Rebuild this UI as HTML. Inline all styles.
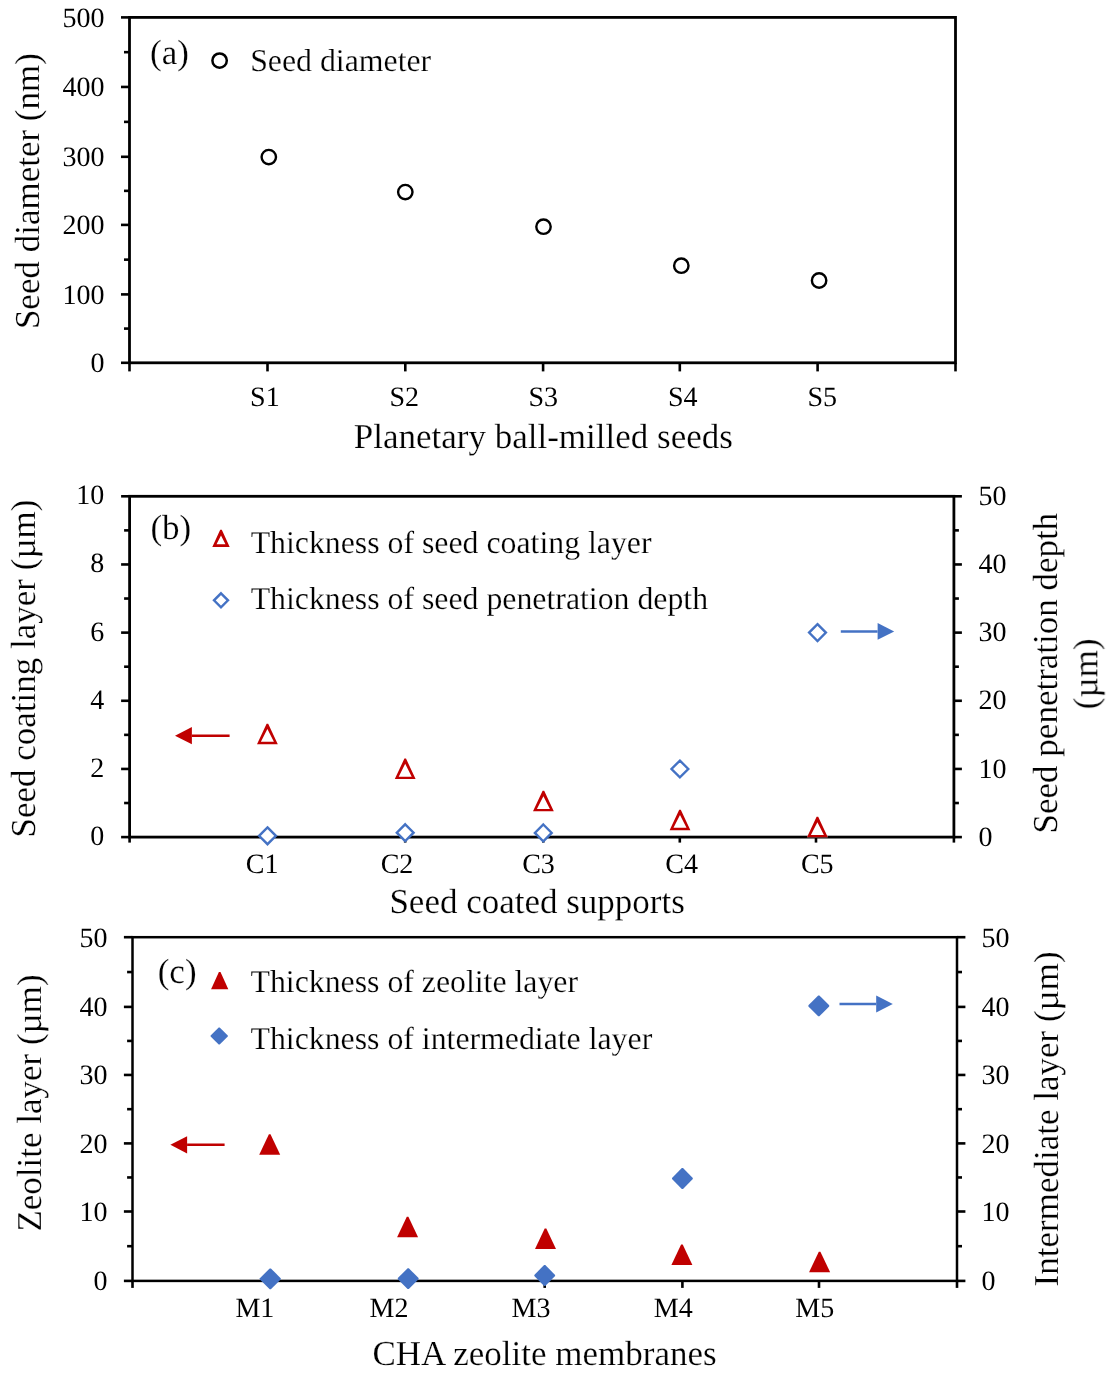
<!DOCTYPE html>
<html><head><meta charset="utf-8"><title>Seed and membrane thickness</title>
<style>
html,body{margin:0;padding:0;background:#fff;}
svg{display:block;}
text{font-family:"Liberation Serif",serif;text-rendering:geometricPrecision;stroke:#fff;stroke-width:0.2px;}
.tk{stroke:none;}

</style></head>
<body>
<svg width="1115" height="1381" viewBox="0 0 1115 1381">
<defs>
<filter id="fb" filterUnits="userSpaceOnUse" x="0" y="0" width="1115" height="1381"><feGaussianBlur stdDeviation="0.0"/></filter>
<filter id="ft" filterUnits="userSpaceOnUse" x="0" y="0" width="1115" height="1381"><feGaussianBlur stdDeviation="0.5"/></filter>
</defs>
<rect width="1115" height="1381" fill="#fff"/>
<g id="g">
<line x1="121.00" y1="17.40" x2="129.50" y2="17.40" stroke="#000" stroke-width="2.6" stroke-linecap="butt"/>
<line x1="124.00" y1="52.17" x2="129.50" y2="52.17" stroke="#000" stroke-width="2.6" stroke-linecap="butt"/>
<line x1="121.00" y1="86.95" x2="129.50" y2="86.95" stroke="#000" stroke-width="2.6" stroke-linecap="butt"/>
<line x1="124.00" y1="121.88" x2="129.50" y2="121.88" stroke="#000" stroke-width="2.6" stroke-linecap="butt"/>
<line x1="121.00" y1="156.80" x2="129.50" y2="156.80" stroke="#000" stroke-width="2.6" stroke-linecap="butt"/>
<line x1="124.00" y1="190.85" x2="129.50" y2="190.85" stroke="#000" stroke-width="2.6" stroke-linecap="butt"/>
<line x1="121.00" y1="224.90" x2="129.50" y2="224.90" stroke="#000" stroke-width="2.6" stroke-linecap="butt"/>
<line x1="124.00" y1="259.65" x2="129.50" y2="259.65" stroke="#000" stroke-width="2.6" stroke-linecap="butt"/>
<line x1="121.00" y1="294.40" x2="129.50" y2="294.40" stroke="#000" stroke-width="2.6" stroke-linecap="butt"/>
<line x1="124.00" y1="328.60" x2="129.50" y2="328.60" stroke="#000" stroke-width="2.6" stroke-linecap="butt"/>
<line x1="121.00" y1="362.80" x2="129.50" y2="362.80" stroke="#000" stroke-width="2.6" stroke-linecap="butt"/>
<line x1="129.50" y1="362.80" x2="129.50" y2="371.40" stroke="#000" stroke-width="2.6" stroke-linecap="butt"/>
<line x1="267.50" y1="362.80" x2="267.50" y2="371.40" stroke="#000" stroke-width="2.6" stroke-linecap="butt"/>
<line x1="405.30" y1="362.80" x2="405.30" y2="371.40" stroke="#000" stroke-width="2.6" stroke-linecap="butt"/>
<line x1="543.10" y1="362.80" x2="543.10" y2="371.40" stroke="#000" stroke-width="2.6" stroke-linecap="butt"/>
<line x1="679.80" y1="362.80" x2="679.80" y2="371.40" stroke="#000" stroke-width="2.6" stroke-linecap="butt"/>
<line x1="817.60" y1="362.80" x2="817.60" y2="371.40" stroke="#000" stroke-width="2.6" stroke-linecap="butt"/>
<line x1="955.50" y1="362.80" x2="955.50" y2="371.40" stroke="#000" stroke-width="2.6" stroke-linecap="butt"/>
<rect x="129.50" y="17.40" width="826.00" height="345.40" fill="none" stroke="#000" stroke-width="2.8"/>
<circle cx="219.60" cy="60.60" r="7.20" fill="#fff" stroke="#000" stroke-width="2.5"/>
<circle cx="268.80" cy="157.10" r="7.20" fill="#fff" stroke="#000" stroke-width="2.4"/>
<circle cx="405.30" cy="192.10" r="7.20" fill="#fff" stroke="#000" stroke-width="2.4"/>
<circle cx="543.50" cy="226.70" r="7.20" fill="#fff" stroke="#000" stroke-width="2.4"/>
<circle cx="681.30" cy="265.70" r="7.20" fill="#fff" stroke="#000" stroke-width="2.4"/>
<circle cx="819.10" cy="280.50" r="7.20" fill="#fff" stroke="#000" stroke-width="2.4"/>
<line x1="121.10" y1="496.30" x2="129.60" y2="496.30" stroke="#000" stroke-width="2.6" stroke-linecap="butt"/>
<line x1="953.90" y1="496.30" x2="961.90" y2="496.30" stroke="#000" stroke-width="2.6" stroke-linecap="butt"/>
<line x1="124.10" y1="530.38" x2="129.60" y2="530.38" stroke="#000" stroke-width="2.6" stroke-linecap="butt"/>
<line x1="953.90" y1="530.38" x2="958.90" y2="530.38" stroke="#000" stroke-width="2.6" stroke-linecap="butt"/>
<line x1="121.10" y1="564.46" x2="129.60" y2="564.46" stroke="#000" stroke-width="2.6" stroke-linecap="butt"/>
<line x1="953.90" y1="564.46" x2="961.90" y2="564.46" stroke="#000" stroke-width="2.6" stroke-linecap="butt"/>
<line x1="124.10" y1="598.54" x2="129.60" y2="598.54" stroke="#000" stroke-width="2.6" stroke-linecap="butt"/>
<line x1="953.90" y1="598.54" x2="958.90" y2="598.54" stroke="#000" stroke-width="2.6" stroke-linecap="butt"/>
<line x1="121.10" y1="632.62" x2="129.60" y2="632.62" stroke="#000" stroke-width="2.6" stroke-linecap="butt"/>
<line x1="953.90" y1="632.62" x2="961.90" y2="632.62" stroke="#000" stroke-width="2.6" stroke-linecap="butt"/>
<line x1="124.10" y1="666.70" x2="129.60" y2="666.70" stroke="#000" stroke-width="2.6" stroke-linecap="butt"/>
<line x1="953.90" y1="666.70" x2="958.90" y2="666.70" stroke="#000" stroke-width="2.6" stroke-linecap="butt"/>
<line x1="121.10" y1="700.78" x2="129.60" y2="700.78" stroke="#000" stroke-width="2.6" stroke-linecap="butt"/>
<line x1="953.90" y1="700.78" x2="961.90" y2="700.78" stroke="#000" stroke-width="2.6" stroke-linecap="butt"/>
<line x1="124.10" y1="734.86" x2="129.60" y2="734.86" stroke="#000" stroke-width="2.6" stroke-linecap="butt"/>
<line x1="953.90" y1="734.86" x2="958.90" y2="734.86" stroke="#000" stroke-width="2.6" stroke-linecap="butt"/>
<line x1="121.10" y1="768.94" x2="129.60" y2="768.94" stroke="#000" stroke-width="2.6" stroke-linecap="butt"/>
<line x1="953.90" y1="768.94" x2="961.90" y2="768.94" stroke="#000" stroke-width="2.6" stroke-linecap="butt"/>
<line x1="124.10" y1="803.02" x2="129.60" y2="803.02" stroke="#000" stroke-width="2.6" stroke-linecap="butt"/>
<line x1="953.90" y1="803.02" x2="958.90" y2="803.02" stroke="#000" stroke-width="2.6" stroke-linecap="butt"/>
<line x1="121.10" y1="837.10" x2="129.60" y2="837.10" stroke="#000" stroke-width="2.6" stroke-linecap="butt"/>
<line x1="953.90" y1="837.10" x2="961.90" y2="837.10" stroke="#000" stroke-width="2.6" stroke-linecap="butt"/>
<line x1="129.60" y1="837.10" x2="129.60" y2="842.60" stroke="#000" stroke-width="2.6" stroke-linecap="butt"/>
<line x1="267.50" y1="837.10" x2="267.50" y2="842.60" stroke="#000" stroke-width="2.6" stroke-linecap="butt"/>
<line x1="405.20" y1="837.10" x2="405.20" y2="842.60" stroke="#000" stroke-width="2.6" stroke-linecap="butt"/>
<line x1="543.30" y1="837.10" x2="543.30" y2="842.60" stroke="#000" stroke-width="2.6" stroke-linecap="butt"/>
<line x1="679.80" y1="837.10" x2="679.80" y2="842.60" stroke="#000" stroke-width="2.6" stroke-linecap="butt"/>
<line x1="816.00" y1="837.10" x2="816.00" y2="842.60" stroke="#000" stroke-width="2.6" stroke-linecap="butt"/>
<line x1="953.90" y1="837.10" x2="953.90" y2="842.60" stroke="#000" stroke-width="2.6" stroke-linecap="butt"/>
<rect x="129.60" y="496.30" width="824.30" height="340.80" fill="none" stroke="#000" stroke-width="2.8"/>
<path d="M220.20,529.85 L221.80,529.85 L229.70,546.95 L212.30,546.95 Z M221.00,535.58 L225.46,544.35 L216.54,544.35 Z" fill="#fff"/>
<path d="M220.20,529.85 L221.80,529.85 L229.70,546.95 L212.30,546.95 Z M221.00,535.58 L225.46,544.35 L216.54,544.35 Z" fill="#C00000" fill-rule="evenodd"/>
<polygon points="221.00,593.30 228.00,600.30 221.00,607.30 214.00,600.30" fill="#fff" stroke="#4472C4" stroke-width="2.4" stroke-linejoin="miter"/>
<line x1="229.60" y1="735.70" x2="191.90" y2="735.70" stroke="#C00000" stroke-width="2.5" stroke-linecap="butt"/>
<polygon points="175.00,735.70 191.90,727.10 191.90,744.30" fill="#C00000"/>
<line x1="840.80" y1="631.40" x2="877.60" y2="631.40" stroke="#4472C4" stroke-width="2.5" stroke-linecap="butt"/>
<polygon points="894.20,631.40 877.60,623.10 877.60,639.70" fill="#4472C4"/>
<path d="M266.60,723.65 L268.20,723.65 L277.80,744.15 L257.00,744.15 Z M267.40,728.95 L273.89,741.75 L260.91,741.75 Z" fill="#fff"/>
<path d="M266.60,723.65 L268.20,723.65 L277.80,744.15 L257.00,744.15 Z M267.40,728.95 L273.89,741.75 L260.91,741.75 Z" fill="#C00000" fill-rule="evenodd"/>
<path d="M404.40,758.55 L406.00,758.55 L415.60,779.05 L394.80,779.05 Z M405.20,763.85 L411.69,776.65 L398.71,776.65 Z" fill="#fff"/>
<path d="M404.40,758.55 L406.00,758.55 L415.60,779.05 L394.80,779.05 Z M405.20,763.85 L411.69,776.65 L398.71,776.65 Z" fill="#C00000" fill-rule="evenodd"/>
<path d="M542.60,790.85 L544.20,790.85 L553.80,811.35 L533.00,811.35 Z M543.40,796.15 L549.89,808.95 L536.91,808.95 Z" fill="#fff"/>
<path d="M542.60,790.85 L544.20,790.85 L553.80,811.35 L533.00,811.35 Z M543.40,796.15 L549.89,808.95 L536.91,808.95 Z" fill="#C00000" fill-rule="evenodd"/>
<path d="M679.20,809.65 L680.80,809.65 L690.40,830.15 L669.60,830.15 Z M680.00,814.95 L686.49,827.75 L673.51,827.75 Z" fill="#fff"/>
<path d="M679.20,809.65 L680.80,809.65 L690.40,830.15 L669.60,830.15 Z M680.00,814.95 L686.49,827.75 L673.51,827.75 Z" fill="#C00000" fill-rule="evenodd"/>
<path d="M816.60,816.85 L818.20,816.85 L827.80,837.35 L807.00,837.35 Z M817.40,822.15 L823.89,834.95 L810.91,834.95 Z" fill="#fff"/>
<path d="M816.60,816.85 L818.20,816.85 L827.80,837.35 L807.00,837.35 Z M817.40,822.15 L823.89,834.95 L810.91,834.95 Z" fill="#C00000" fill-rule="evenodd"/>
<polygon points="267.50,827.40 275.90,835.80 267.50,844.20 259.10,835.80" fill="#fff" stroke="#4472C4" stroke-width="2.4" stroke-linejoin="miter"/>
<polygon points="405.20,824.30 413.60,832.70 405.20,841.10 396.80,832.70" fill="#fff" stroke="#4472C4" stroke-width="2.4" stroke-linejoin="miter"/>
<polygon points="543.30,824.50 551.70,832.90 543.30,841.30 534.90,832.90" fill="#fff" stroke="#4472C4" stroke-width="2.4" stroke-linejoin="miter"/>
<polygon points="679.90,760.60 688.30,769.00 679.90,777.40 671.50,769.00" fill="#fff" stroke="#4472C4" stroke-width="2.4" stroke-linejoin="miter"/>
<polygon points="817.50,624.20 825.90,632.60 817.50,641.00 809.10,632.60" fill="#fff" stroke="#4472C4" stroke-width="2.4" stroke-linejoin="miter"/>
<line x1="123.90" y1="937.20" x2="132.50" y2="937.20" stroke="#000" stroke-width="2.6" stroke-linecap="butt"/>
<line x1="957.00" y1="937.20" x2="965.40" y2="937.20" stroke="#000" stroke-width="2.6" stroke-linecap="butt"/>
<line x1="127.10" y1="972.05" x2="132.50" y2="972.05" stroke="#000" stroke-width="2.6" stroke-linecap="butt"/>
<line x1="957.00" y1="972.05" x2="962.00" y2="972.05" stroke="#000" stroke-width="2.6" stroke-linecap="butt"/>
<line x1="123.90" y1="1006.90" x2="132.50" y2="1006.90" stroke="#000" stroke-width="2.6" stroke-linecap="butt"/>
<line x1="957.00" y1="1006.90" x2="965.40" y2="1006.90" stroke="#000" stroke-width="2.6" stroke-linecap="butt"/>
<line x1="127.10" y1="1040.92" x2="132.50" y2="1040.92" stroke="#000" stroke-width="2.6" stroke-linecap="butt"/>
<line x1="957.00" y1="1040.92" x2="962.00" y2="1040.92" stroke="#000" stroke-width="2.6" stroke-linecap="butt"/>
<line x1="123.90" y1="1074.95" x2="132.50" y2="1074.95" stroke="#000" stroke-width="2.6" stroke-linecap="butt"/>
<line x1="957.00" y1="1074.95" x2="965.40" y2="1074.95" stroke="#000" stroke-width="2.6" stroke-linecap="butt"/>
<line x1="127.10" y1="1109.18" x2="132.50" y2="1109.18" stroke="#000" stroke-width="2.6" stroke-linecap="butt"/>
<line x1="957.00" y1="1109.18" x2="962.00" y2="1109.18" stroke="#000" stroke-width="2.6" stroke-linecap="butt"/>
<line x1="123.90" y1="1143.40" x2="132.50" y2="1143.40" stroke="#000" stroke-width="2.6" stroke-linecap="butt"/>
<line x1="957.00" y1="1143.40" x2="965.40" y2="1143.40" stroke="#000" stroke-width="2.6" stroke-linecap="butt"/>
<line x1="127.10" y1="1177.45" x2="132.50" y2="1177.45" stroke="#000" stroke-width="2.6" stroke-linecap="butt"/>
<line x1="957.00" y1="1177.45" x2="962.00" y2="1177.45" stroke="#000" stroke-width="2.6" stroke-linecap="butt"/>
<line x1="123.90" y1="1211.50" x2="132.50" y2="1211.50" stroke="#000" stroke-width="2.6" stroke-linecap="butt"/>
<line x1="957.00" y1="1211.50" x2="965.40" y2="1211.50" stroke="#000" stroke-width="2.6" stroke-linecap="butt"/>
<line x1="127.10" y1="1246.20" x2="132.50" y2="1246.20" stroke="#000" stroke-width="2.6" stroke-linecap="butt"/>
<line x1="957.00" y1="1246.20" x2="962.00" y2="1246.20" stroke="#000" stroke-width="2.6" stroke-linecap="butt"/>
<line x1="123.90" y1="1280.90" x2="132.50" y2="1280.90" stroke="#000" stroke-width="2.6" stroke-linecap="butt"/>
<line x1="957.00" y1="1280.90" x2="965.40" y2="1280.90" stroke="#000" stroke-width="2.6" stroke-linecap="butt"/>
<line x1="132.50" y1="1280.90" x2="132.50" y2="1287.90" stroke="#000" stroke-width="2.6" stroke-linecap="butt"/>
<line x1="270.30" y1="1280.90" x2="270.30" y2="1287.90" stroke="#000" stroke-width="2.6" stroke-linecap="butt"/>
<line x1="408.20" y1="1280.90" x2="408.20" y2="1287.90" stroke="#000" stroke-width="2.6" stroke-linecap="butt"/>
<line x1="544.70" y1="1280.90" x2="544.70" y2="1287.90" stroke="#000" stroke-width="2.6" stroke-linecap="butt"/>
<line x1="682.40" y1="1280.90" x2="682.40" y2="1287.90" stroke="#000" stroke-width="2.6" stroke-linecap="butt"/>
<line x1="819.00" y1="1280.90" x2="819.00" y2="1287.90" stroke="#000" stroke-width="2.6" stroke-linecap="butt"/>
<line x1="957.00" y1="1280.90" x2="957.00" y2="1287.90" stroke="#000" stroke-width="2.6" stroke-linecap="butt"/>
<rect x="132.50" y="937.20" width="824.50" height="343.70" fill="none" stroke="#000" stroke-width="2.5"/>
<polygon points="218.90,972.10 220.50,972.10 228.30,989.30 211.10,989.30" fill="#C00000"/>
<polygon points="218.70,1027.40 219.70,1027.40 227.80,1035.50 227.80,1036.50 219.70,1044.60 218.70,1044.60 210.60,1036.50 210.60,1035.50" fill="#4472C4"/>
<line x1="224.60" y1="1144.80" x2="187.10" y2="1144.80" stroke="#C00000" stroke-width="2.5" stroke-linecap="butt"/>
<polygon points="170.40,1144.80 187.10,1136.20 187.10,1153.40" fill="#C00000"/>
<line x1="839.50" y1="1004.00" x2="876.20" y2="1004.00" stroke="#4472C4" stroke-width="2.5" stroke-linecap="butt"/>
<polygon points="892.80,1004.00 876.20,995.50 876.20,1012.50" fill="#4472C4"/>
<polygon points="268.90,1134.25 270.50,1134.25 280.20,1154.75 259.20,1154.75" fill="#C00000"/>
<polygon points="406.80,1216.75 408.40,1216.75 418.10,1237.25 397.10,1237.25" fill="#C00000"/>
<polygon points="544.70,1228.55 546.30,1228.55 556.00,1249.05 535.00,1249.05" fill="#C00000"/>
<polygon points="681.10,1244.55 682.70,1244.55 692.40,1265.05 671.40,1265.05" fill="#C00000"/>
<polygon points="818.80,1251.65 820.40,1251.65 830.10,1272.15 809.10,1272.15" fill="#C00000"/>
<polygon points="269.70,1268.40 270.90,1268.40 280.70,1278.20 280.70,1279.40 270.90,1289.20 269.70,1289.20 259.90,1279.40 259.90,1278.20" fill="#4472C4"/>
<polygon points="407.60,1268.30 408.80,1268.30 418.60,1278.10 418.60,1279.30 408.80,1289.10 407.60,1289.10 397.80,1279.30 397.80,1278.10" fill="#4472C4"/>
<polygon points="544.10,1265.10 545.30,1265.10 555.10,1274.90 555.10,1276.10 545.30,1285.90 544.10,1285.90 534.30,1276.10 534.30,1274.90" fill="#4472C4"/>
<polygon points="681.80,1168.10 683.00,1168.10 692.80,1177.90 692.80,1179.10 683.00,1188.90 681.80,1188.90 672.00,1179.10 672.00,1177.90" fill="#4472C4"/>
<polygon points="818.20,995.50 819.40,995.50 829.20,1005.30 829.20,1006.50 819.40,1016.30 818.20,1016.30 808.40,1006.50 808.40,1005.30" fill="#4472C4"/>
</g>
<g id="t" filter="url(#ft)">
<text class="tk" x="104.60" y="26.70" font-size="28" text-anchor="end" fill="#000">500</text>
<text class="tk" x="104.60" y="96.25" font-size="28" text-anchor="end" fill="#000">400</text>
<text class="tk" x="104.60" y="166.10" font-size="28" text-anchor="end" fill="#000">300</text>
<text class="tk" x="104.60" y="234.20" font-size="28" text-anchor="end" fill="#000">200</text>
<text class="tk" x="104.60" y="303.70" font-size="28" text-anchor="end" fill="#000">100</text>
<text class="tk" x="104.60" y="372.10" font-size="28" text-anchor="end" fill="#000">0</text>
<text class="tk" x="250.10" y="406.30" font-size="28" text-anchor="start" fill="#000">S1</text>
<text class="tk" x="389.40" y="406.30" font-size="28" text-anchor="start" fill="#000">S2</text>
<text class="tk" x="528.40" y="406.30" font-size="28" text-anchor="start" fill="#000">S3</text>
<text class="tk" x="668.00" y="406.30" font-size="28" text-anchor="start" fill="#000">S4</text>
<text class="tk" x="807.50" y="406.30" font-size="28" text-anchor="start" fill="#000">S5</text>
<text x="353.80" y="447.60" font-size="35.0" text-anchor="start" fill="#000">Planetary ball-milled seeds</text>
<text x="38.60" y="329.10" font-size="35.0" text-anchor="start" transform="rotate(-90 38.60 329.10)" fill="#000">Seed diameter (nm)</text>
<text x="150.10" y="64.20" font-size="35" text-anchor="start" fill="#000">(a)</text>
<text x="250.20" y="71.20" font-size="31.8" text-anchor="start" fill="#000">Seed diameter</text>
<text class="tk" x="104.30" y="504.30" font-size="28" text-anchor="end" fill="#000">10</text>
<text class="tk" x="104.30" y="572.46" font-size="28" text-anchor="end" fill="#000">8</text>
<text class="tk" x="104.30" y="640.62" font-size="28" text-anchor="end" fill="#000">6</text>
<text class="tk" x="104.30" y="708.78" font-size="28" text-anchor="end" fill="#000">4</text>
<text class="tk" x="104.30" y="776.94" font-size="28" text-anchor="end" fill="#000">2</text>
<text class="tk" x="104.30" y="845.10" font-size="28" text-anchor="end" fill="#000">0</text>
<text class="tk" x="978.50" y="505.00" font-size="28" text-anchor="start" fill="#000">50</text>
<text class="tk" x="978.50" y="573.16" font-size="28" text-anchor="start" fill="#000">40</text>
<text class="tk" x="978.50" y="641.32" font-size="28" text-anchor="start" fill="#000">30</text>
<text class="tk" x="978.50" y="709.48" font-size="28" text-anchor="start" fill="#000">20</text>
<text class="tk" x="978.50" y="777.64" font-size="28" text-anchor="start" fill="#000">10</text>
<text class="tk" x="978.50" y="845.80" font-size="28" text-anchor="start" fill="#000">0</text>
<text class="tk" x="245.80" y="873.10" font-size="28" text-anchor="start" fill="#000">C1</text>
<text class="tk" x="380.70" y="873.10" font-size="28" text-anchor="start" fill="#000">C2</text>
<text class="tk" x="522.20" y="873.10" font-size="28" text-anchor="start" fill="#000">C3</text>
<text class="tk" x="665.30" y="873.10" font-size="28" text-anchor="start" fill="#000">C4</text>
<text class="tk" x="800.90" y="873.10" font-size="28" text-anchor="start" fill="#000">C5</text>
<text x="389.40" y="913.30" font-size="35.0" text-anchor="start" fill="#000">Seed coated supports</text>
<text x="34.70" y="837.50" font-size="35.0" text-anchor="start" transform="rotate(-90 34.70 837.50)" fill="#000">Seed coating layer (µm)</text>
<text x="1056.90" y="673.05" font-size="35.0" text-anchor="middle" transform="rotate(-90 1056.90 673.05)" fill="#000">Seed penetration depth</text>
<text x="1097.20" y="673.90" font-size="35.0" text-anchor="middle" transform="rotate(-90 1097.20 673.90)" fill="#000">(µm)</text>
<text x="150.40" y="539.20" font-size="35" text-anchor="start" fill="#000">(b)</text>
<text x="250.70" y="552.70" font-size="31.8" text-anchor="start" fill="#000">Thickness of seed coating layer</text>
<text x="250.70" y="609.00" font-size="31.8" text-anchor="start" fill="#000">Thickness of seed penetration depth</text>
<text class="tk" x="107.40" y="946.50" font-size="28" text-anchor="end" fill="#000">50</text>
<text class="tk" x="981.50" y="946.50" font-size="28" text-anchor="start" fill="#000">50</text>
<text class="tk" x="107.40" y="1016.20" font-size="28" text-anchor="end" fill="#000">40</text>
<text class="tk" x="981.50" y="1016.20" font-size="28" text-anchor="start" fill="#000">40</text>
<text class="tk" x="107.40" y="1084.25" font-size="28" text-anchor="end" fill="#000">30</text>
<text class="tk" x="981.50" y="1084.25" font-size="28" text-anchor="start" fill="#000">30</text>
<text class="tk" x="107.40" y="1152.70" font-size="28" text-anchor="end" fill="#000">20</text>
<text class="tk" x="981.50" y="1152.70" font-size="28" text-anchor="start" fill="#000">20</text>
<text class="tk" x="107.40" y="1220.80" font-size="28" text-anchor="end" fill="#000">10</text>
<text class="tk" x="981.50" y="1220.80" font-size="28" text-anchor="start" fill="#000">10</text>
<text class="tk" x="107.40" y="1290.20" font-size="28" text-anchor="end" fill="#000">0</text>
<text class="tk" x="981.50" y="1290.20" font-size="28" text-anchor="start" fill="#000">0</text>
<text class="tk" x="235.40" y="1317.10" font-size="28" text-anchor="start" fill="#000">M1</text>
<text class="tk" x="369.50" y="1317.10" font-size="28" text-anchor="start" fill="#000">M2</text>
<text class="tk" x="511.50" y="1317.10" font-size="28" text-anchor="start" fill="#000">M3</text>
<text class="tk" x="653.80" y="1317.10" font-size="28" text-anchor="start" fill="#000">M4</text>
<text class="tk" x="795.30" y="1317.10" font-size="28" text-anchor="start" fill="#000">M5</text>
<text x="372.50" y="1364.80" font-size="35.0" text-anchor="start" fill="#000">CHA zeolite membranes</text>
<text x="40.70" y="1231.60" font-size="35.0" text-anchor="start" transform="rotate(-90 40.70 1231.60)" fill="#000">Zeolite layer (µm)</text>
<text x="1057.60" y="1286.40" font-size="35.0" text-anchor="start" transform="rotate(-90 1057.60 1286.40)" fill="#000">Intermediate layer (µm)</text>
<text x="157.70" y="983.30" font-size="35" text-anchor="start" fill="#000">(c)</text>
<text x="250.50" y="992.00" font-size="31.8" text-anchor="start" fill="#000">Thickness of zeolite layer</text>
<text x="250.50" y="1048.70" font-size="31.8" text-anchor="start" fill="#000">Thickness of intermediate layer</text>
</g>
</svg>
</body></html>
